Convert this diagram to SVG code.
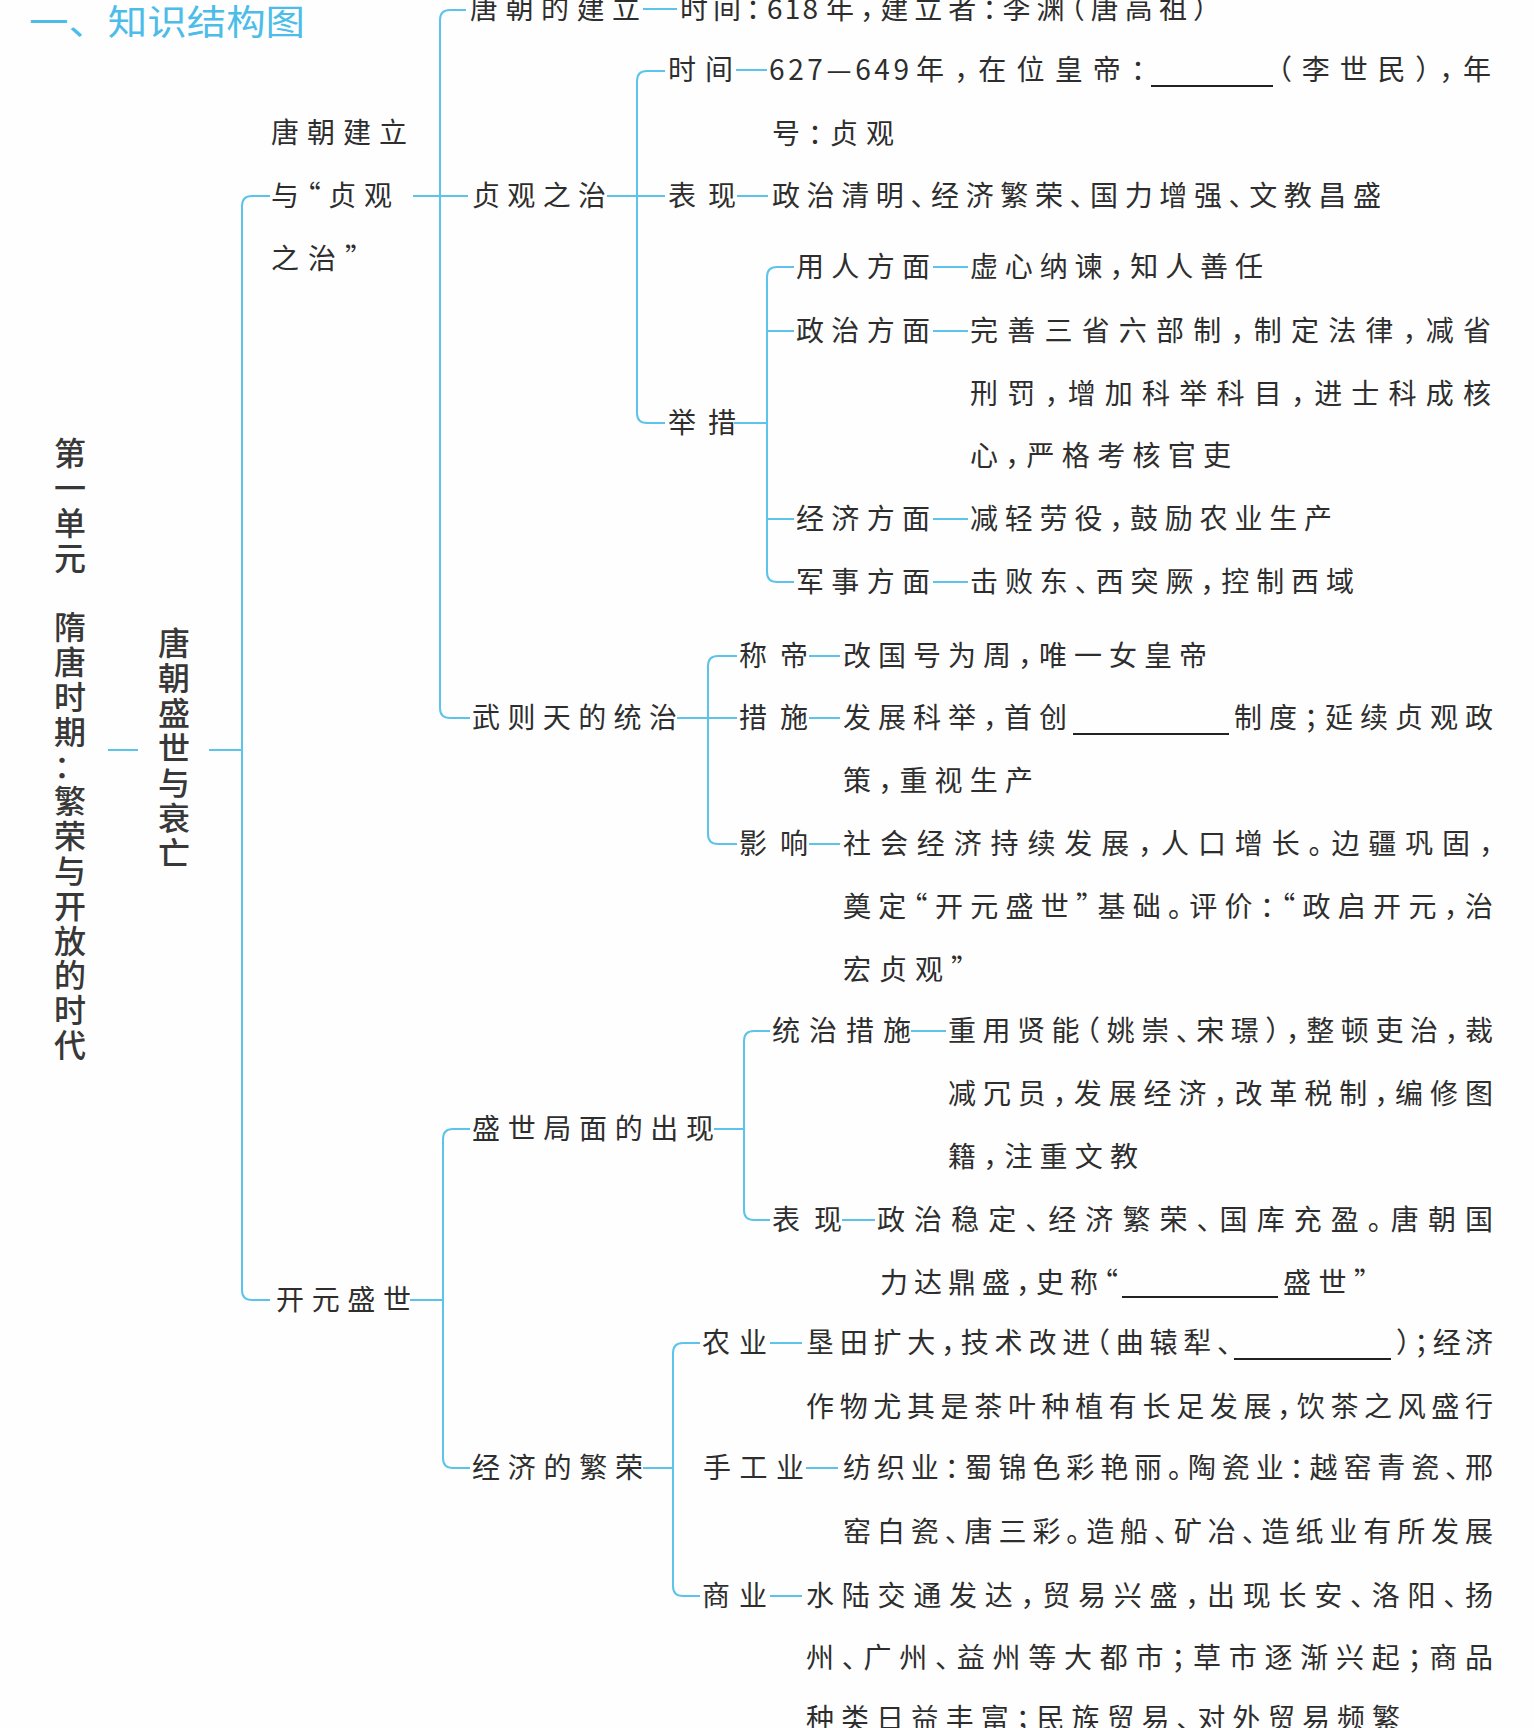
<svg xmlns="http://www.w3.org/2000/svg" width="1534" height="1728" viewBox="0 0 1534 1728">
<style>
.bg{fill:#fefefe}
.title{font-family:"Noto Sans CJK SC","Noto Sans",sans-serif;font-size:35px;fill:#4cbde8}
.vt{font-family:"Noto Sans CJK SC","Noto Sans",sans-serif;font-size:32px;font-weight:500;fill:#383838}
.t{font-family:"Noto Sans CJK SC","Noto Sans",sans-serif;font-size:28px;fill:#2e2e2e;font-feature-settings:"halt"}
.ln{fill:none;stroke:#5cc4ea;stroke-width:2;stroke-linecap:butt}
.blank{stroke:#222;stroke-width:2}
</style>
<rect class="bg" x="0" y="0" width="1534" height="1728"/>
<text class="title" x="29" y="35" textLength="276" lengthAdjust="spacingAndGlyphs">一、知识结构图</text>

<g id="connectors">
<path class="ln" d="M108 750H138M209 750H242"/>
<path class="ln" d="M270 196H252Q242 196 242 206V1290Q242 1300 252 1300H270"/>
<path class="ln" d="M413 196H468"/>
<path class="ln" d="M466 10H450Q440 10 440 20V708Q440 718 450 718H470"/>
<path class="ln" d="M643 9H677"/>
<path class="ln" d="M607 196H665"/>
<path class="ln" d="M665 71H647Q637 71 637 81V413Q637 423 647 423H665"/>
<path class="ln" d="M736 70H767M737 196H768M734 423H767"/>
<path class="ln" d="M794 267H777Q767 267 767 277V572Q767 582 777 582H794M767 331H794M767 519H794"/>
<path class="ln" d="M933 267H968M933 331H968M933 519H968M933 582H968"/>
<path class="ln" d="M677 718H737"/>
<path class="ln" d="M737 656H718Q708 656 708 666V834Q708 844 718 844H737"/>
<path class="ln" d="M809 656H840M809 718H840M809 844H840"/>
<path class="ln" d="M410 1300H443"/>
<path class="ln" d="M470 1129H453Q443 1129 443 1139V1458Q443 1468 453 1468H470"/>
<path class="ln" d="M714 1129H744"/>
<path class="ln" d="M770 1031H754Q744 1031 744 1041V1210Q744 1220 754 1220H770"/>
<path class="ln" d="M911 1031H946M842 1220H875"/>
<path class="ln" d="M643 1468H673"/>
<path class="ln" d="M700 1343H683Q673 1343 673 1353V1586Q673 1596 683 1596H700"/>
<path class="ln" d="M770 1343H802M806 1468H838M770 1596H802"/>
</g>

<g id="node-unit">
<text class="vt" text-anchor="middle" x="70 70 70 70 70 70 70 70 70 70 70 70 70 70 70 70 70 70" y="465 500 535 570 605 639 674 709 744 778 813 848 883 918 953 987 1022 1057">第一单元 隋唐时期：繁荣与开放的时代</text>
</g>
<g id="node-lesson">
<text class="vt" text-anchor="middle" x="174 174 174 174 174 174 174" y="655 690 725 760 795 830 865">唐朝盛世与衰亡</text>
</g>

<g id="node-zhenguan-founding">
<text class="t" x="271" y="143" textLength="136" lengthAdjust="spacing">唐朝建立</text>
<text class="t" x="271" y="206" textLength="121" lengthAdjust="spacing">与“贞观</text>
<text class="t" x="271" y="269" textLength="88" lengthAdjust="spacing">之治”</text>
</g>

<g id="node-founding">
<text class="t" x="470" y="19" textLength="170" lengthAdjust="spacing">唐朝的建立</text>
<text class="t" x="680" y="19" textLength="80" lengthAdjust="spacing">时间：</text>
<text class="t" x="767" y="19" textLength="51" lengthAdjust="spacing">618</text>
<text class="t" x="826" y="19" textLength="381" lengthAdjust="spacing">年，建立者：李渊（唐高祖）</text>
</g>

<g id="node-zhenguan">
<text class="t" x="472" y="206" textLength="134" lengthAdjust="spacing">贞观之治</text>
</g>
<g id="node-zg-time">
<text class="t" x="668" y="80" textLength="65" lengthAdjust="spacing">时间</text>
<text class="t" x="769" y="80" textLength="140" lengthAdjust="spacing">627—649</text>
<text class="t" x="916" y="80" textLength="229" lengthAdjust="spacing">年，在位皇帝：</text>
<line class="blank" x1="1151" y1="86" x2="1273" y2="86"/>
<text class="t" x="1278" y="80" textLength="213" lengthAdjust="spacing">（李世民），年</text>
<text class="t" x="772" y="144" textLength="122" lengthAdjust="spacing">号：贞观</text>
</g>
<g id="node-zg-show">
<text class="t" x="668" y="206" textLength="68" lengthAdjust="spacing">表现</text>
<text class="t" x="772" y="206" textLength="609" lengthAdjust="spacing">政治清明、经济繁荣、国力增强、文教昌盛</text>
</g>
<g id="node-zg-measures">
<text class="t" x="668" y="433" textLength="68" lengthAdjust="spacing">举措</text>
</g>
<g id="node-m-people">
<text class="t" x="796" y="277" textLength="134" lengthAdjust="spacing">用人方面</text>
<text class="t" x="970" y="277" textLength="293" lengthAdjust="spacing">虚心纳谏，知人善任</text>
</g>
<g id="node-m-politics">
<text class="t" x="796" y="341" textLength="134" lengthAdjust="spacing">政治方面</text>
<text class="t" x="970" y="341" textLength="521" lengthAdjust="spacing">完善三省六部制，制定法律，减省</text>
<text class="t" x="970" y="404" textLength="521" lengthAdjust="spacing">刑罚，增加科举科目，进士科成核</text>
<text class="t" x="970" y="466" textLength="261" lengthAdjust="spacing">心，严格考核官吏</text>
</g>
<g id="node-m-economy">
<text class="t" x="796" y="529" textLength="134" lengthAdjust="spacing">经济方面</text>
<text class="t" x="970" y="529" textLength="362" lengthAdjust="spacing">减轻劳役，鼓励农业生产</text>
</g>
<g id="node-m-military">
<text class="t" x="796" y="592" textLength="134" lengthAdjust="spacing">军事方面</text>
<text class="t" x="970" y="592" textLength="384" lengthAdjust="spacing">击败东、西突厥，控制西域</text>
</g>

<g id="node-wuzetian">
<text class="t" x="472" y="728" textLength="205" lengthAdjust="spacing">武则天的统治</text>
</g>
<g id="node-w-emperor">
<text class="t" x="739" y="666" textLength="69" lengthAdjust="spacing">称帝</text>
<text class="t" x="843" y="666" textLength="364" lengthAdjust="spacing">改国号为周，唯一女皇帝</text>
</g>
<g id="node-w-measures">
<text class="t" x="739" y="728" textLength="69" lengthAdjust="spacing">措施</text>
<text class="t" x="843" y="728" textLength="224" lengthAdjust="spacing">发展科举，首创</text>
<line class="blank" x1="1073" y1="734" x2="1229" y2="734"/>
<text class="t" x="1234" y="728" textLength="259" lengthAdjust="spacing">制度；延续贞观政</text>
<text class="t" x="843" y="791" textLength="190" lengthAdjust="spacing">策，重视生产</text>
</g>
<g id="node-w-impact">
<text class="t" x="739" y="854" textLength="69" lengthAdjust="spacing">影响</text>
<text class="t" x="843" y="854" textLength="650" lengthAdjust="spacing">社会经济持续发展，人口增长。边疆巩固，</text>
<text class="t" x="843" y="917" textLength="650" lengthAdjust="spacing">奠定“开元盛世”基础。评价：“政启开元，治</text>
<text class="t" x="843" y="980" textLength="122" lengthAdjust="spacing">宏贞观”</text>
</g>

<g id="node-kaiyuan">
<text class="t" x="276" y="1310" textLength="135" lengthAdjust="spacing">开元盛世</text>
</g>
<g id="node-prosperity">
<text class="t" x="472" y="1139" textLength="242" lengthAdjust="spacing">盛世局面的出现</text>
</g>
<g id="node-p-rule">
<text class="t" x="772" y="1041" textLength="139" lengthAdjust="spacing">统治措施</text>
<text class="t" x="948" y="1041" textLength="545" lengthAdjust="spacing">重用贤能（姚崇、宋璟），整顿吏治，裁</text>
<text class="t" x="948" y="1104" textLength="545" lengthAdjust="spacing">减冗员，发展经济，改革税制，编修图</text>
<text class="t" x="948" y="1167" textLength="190" lengthAdjust="spacing">籍，注重文教</text>
</g>
<g id="node-p-show">
<text class="t" x="772" y="1230" textLength="70" lengthAdjust="spacing">表现</text>
<text class="t" x="877" y="1230" textLength="616" lengthAdjust="spacing">政治稳定、经济繁荣、国库充盈。唐朝国</text>
<text class="t" x="880" y="1293" textLength="238" lengthAdjust="spacing">力达鼎盛，史称“</text>
<line class="blank" x1="1122" y1="1297" x2="1278" y2="1297"/>
<text class="t" x="1283" y="1293" textLength="85" lengthAdjust="spacing">盛世”</text>
</g>

<g id="node-economy">
<text class="t" x="472" y="1478" textLength="171" lengthAdjust="spacing">经济的繁荣</text>
</g>
<g id="node-e-agri">
<text class="t" x="702" y="1353" textLength="65" lengthAdjust="spacing">农业</text>
<text class="t" x="806" y="1353" textLength="425" lengthAdjust="spacing">垦田扩大，技术改进（曲辕犁、</text>
<line class="blank" x1="1234" y1="1359" x2="1391" y2="1359"/>
<text class="t" x="1396" y="1353" textLength="97" lengthAdjust="spacing">）；经济</text>
<text class="t" x="806" y="1417" textLength="687" lengthAdjust="spacing">作物尤其是茶叶种植有长足发展，饮茶之风盛行</text>
</g>
<g id="node-e-craft">
<text class="t" x="703" y="1478" textLength="101" lengthAdjust="spacing">手工业</text>
<text class="t" x="843" y="1478" textLength="650" lengthAdjust="spacing">纺织业：蜀锦色彩艳丽。陶瓷业：越窑青瓷、邢</text>
<text class="t" x="843" y="1542" textLength="650" lengthAdjust="spacing">窑白瓷、唐三彩。造船、矿冶、造纸业有所发展</text>
</g>
<g id="node-e-commerce">
<text class="t" x="702" y="1606" textLength="65" lengthAdjust="spacing">商业</text>
<text class="t" x="806" y="1606" textLength="687" lengthAdjust="spacing">水陆交通发达，贸易兴盛，出现长安、洛阳、扬</text>
<text class="t" x="806" y="1668" textLength="687" lengthAdjust="spacing">州、广州、益州等大都市；草市逐渐兴起；商品</text>
<text class="t" x="806" y="1729" textLength="594" lengthAdjust="spacing">种类日益丰富；民族贸易、对外贸易频繁</text>
</g>
</svg>
